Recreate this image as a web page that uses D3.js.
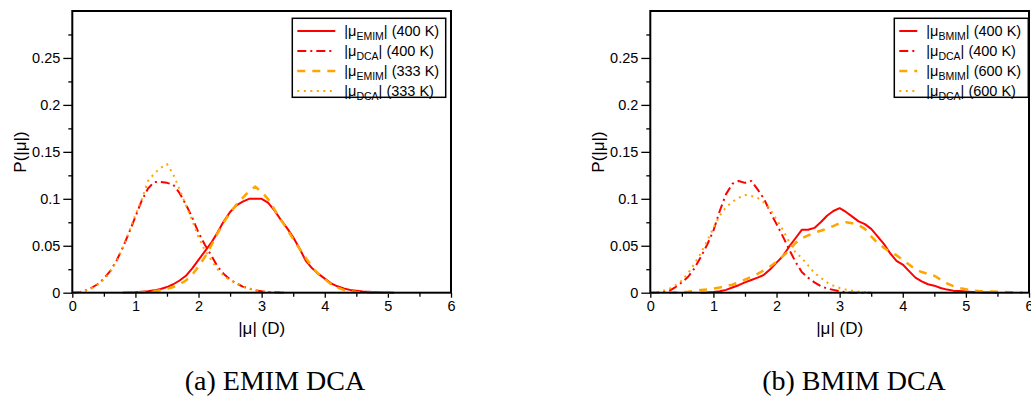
<!DOCTYPE html>
<html>
<head>
  <meta charset="utf-8">
  <script src="https://cdn.jsdelivr.net/npm/d3@7"></script>
  <style>
    body { margin: 0; background: #fff; }
    svg { display: block; }
    .tick text { font-family: "Liberation Sans", Arial, sans-serif; font-size: 14.5px; fill: #000; }
    .lab { font-family: "Liberation Sans", Arial, sans-serif; font-size: 17px; fill: #000; }
    .leg { font-family: "Liberation Sans", Arial, sans-serif; font-size: 14.5px; fill: #000; }
    .cap { font-family: "Liberation Serif", "DejaVu Serif", serif; font-size: 28px; fill: #000; }
  </style>
</head>
<body>
<script>
  "use strict";

  // axis ticks shared by both panels
  var xTicks = [0, 1, 2, 3, 4, 5, 6];
  var xMinor = [0.5, 1.5, 2.5, 3.5, 4.5, 5.5];
  var yTicks = [0, 0.05, 0.1, 0.15, 0.2, 0.25];
  var yTickLabels = ["0", "0.05", "0.1", "0.15", "0.2", "0.25"];
  var yMinor = [0.025, 0.075, 0.125, 0.175, 0.225, 0.275];

  // (a) EMIM DCA
  var aDcaX = [0,0.1,0.2,0.3,0.4,0.5,0.6,0.7,0.8,0.9,1.0,1.1,1.2,1.3,1.4,1.5,1.6,1.7,1.8,1.9,
               2.0,2.1,2.2,2.3,2.4,2.5,2.6,2.7,2.8,2.9,3.0,3.1,3.2,3.3,3.4];
  var aDca400 = [0,0.0005,0.002,0.005,0.009,0.015,0.023,0.034,0.048,0.064,
                 0.081,0.098,0.111,0.118,0.118,0.117,0.115,0.106,0.094,0.08,
                 0.064,0.051,0.04,0.028,0.02,0.014,0.01,0.0065,0.0045,0.0025,
                 0.0015,0.0008,0.0004,0.0001,0];
  var aDca333 = [0,0.0004,0.0018,0.0045,0.0085,0.014,0.022,0.033,0.048,0.065,
                 0.083,0.099,0.119,0.127,0.133,0.137,0.126,0.11,0.093,0.077,
                 0.059,0.045,0.035,0.025,0.018,0.013,0.01,0.0065,0.0045,0.003,
                 0.0018,0.001,0.0005,0.0002,0];
  var aEmimX = [0.8,0.9,1.0,1.1,1.2,1.3,1.4,1.5,1.6,1.7,1.8,1.9,2.0,2.1,2.2,2.3,2.4,2.5,2.6,2.7,
                2.8,2.9,3.0,3.1,3.2,3.3,3.4,3.5,3.6,3.7,3.8,3.9,4.0,4.1,4.2,4.3,4.4,4.5,4.6,4.7,
                4.8,4.9,5.0,5.1];
  var aEmim400 = [0,0.0002,0.0005,0.001,0.0015,0.0025,0.004,0.006,0.009,0.013,
                  0.018,0.026,0.035,0.044,0.053,0.064,0.076,0.086,0.093,0.097,
                  0.1,0.1,0.1,0.096,0.088,0.078,0.069,0.059,0.047,0.034,
                  0.026,0.02,0.015,0.01,0.0068,0.0045,0.003,0.0022,0.0014,0.001,
                  0.0006,0.0003,0.0001,0];
  var aEmim333 = [0,0,0.0002,0.0005,0.0008,0.0015,0.0025,0.004,0.006,0.009,
                  0.013,0.019,0.028,0.038,0.05,0.063,0.075,0.085,0.094,0.101,
                  0.108,0.113,0.107,0.1,0.089,0.078,0.068,0.057,0.047,0.037,
                  0.027,0.02,0.0145,0.009,0.0055,0.003,0.0015,0.0007,0.0002,0,
                  0,0,0,0];

  // (b) BMIM DCA
  var bDcaX = [0,0.1,0.2,0.3,0.4,0.5,0.6,0.7,0.8,0.9,1.0,1.1,1.2,1.3,1.4,1.5,1.6,1.7,1.8,1.9,
               2.0,2.1,2.2,2.3,2.4,2.5,2.6,2.7,2.8,2.9,3.0,3.1,3.2,3.3,3.4,3.5];
  var bDca400 = [0,0.0001,0.0005,0.002,0.006,0.011,0.017,0.026,0.038,0.051,
                 0.066,0.087,0.105,0.116,0.119,0.117,0.119,0.11,0.1,0.086,
                 0.073,0.06,0.046,0.033,0.022,0.016,0.011,0.007,0.0045,0.003,
                 0.0015,0.0005,0,0,0,0];
  var bDca600 = [0,0.0005,0.002,0.004,0.008,0.013,0.021,0.031,0.042,0.055,
                 0.069,0.082,0.091,0.097,0.101,0.104,0.103,0.101,0.096,0.089,
                 0.078,0.067,0.054,0.043,0.037,0.029,0.021,0.016,0.011,0.0075,
                 0.005,0.0033,0.002,0.001,0.0005,0];
  var bBmim400X = [0.8,0.9,1.0,1.1,1.2,1.3,1.4,1.5,1.6,1.7,1.8,1.9,2.0,2.1,2.2,2.3,2.4,2.5,2.6,2.7,
                   2.8,2.9,3.0,3.1,3.2,3.3,3.4,3.5,3.6,3.7,3.8,3.9,4.0,4.1,4.2,4.3,4.4,4.5,4.6,4.7,
                   4.8,4.9,5.0,5.1,5.2,5.3,5.4,5.5];
  var bBmim400 = [0,0.0003,0.0008,0.0015,0.003,0.0055,0.008,0.011,0.0135,0.016,
                  0.019,0.025,0.032,0.039,0.049,0.058,0.067,0.067,0.069,0.075,
                  0.082,0.087,0.09,0.086,0.081,0.076,0.073,0.068,0.06,0.052,
                  0.042,0.034,0.03,0.023,0.016,0.012,0.009,0.0075,0.005,0.0033,
                  0.0022,0.0017,0.0012,0.0008,0.0005,0.0003,0.0001,0];
  var bBmim600X = [0.3,0.4,0.5,0.6,0.7,0.8,0.9,1.0,1.1,1.2,1.3,1.4,1.5,1.6,1.7,1.8,1.9,2.0,2.1,2.2,
                   2.3,2.4,2.5,2.6,2.7,2.8,2.9,3.0,3.1,3.2,3.3,3.4,3.5,3.6,3.7,3.8,3.9,4.0,4.1,4.2,
                   4.3,4.4,4.5,4.6,4.7,4.8,4.9,5.0,5.1,5.2,5.3,5.4,5.5,5.6,5.7,5.8,5.9];
  var bBmim600 = [0,0.0002,0.0005,0.001,0.002,0.003,0.0035,0.0045,0.0055,0.007,
                  0.0085,0.011,0.014,0.017,0.02,0.024,0.028,0.033,0.039,0.045,
                  0.053,0.058,0.061,0.064,0.066,0.068,0.071,0.074,0.075,0.074,
                  0.072,0.068,0.06,0.053,0.048,0.043,0.04,0.035,0.03,0.025,
                  0.022,0.02,0.018,0.014,0.01,0.007,0.005,0.0036,0.0025,0.0018,
                  0.0015,0.0012,0.001,0.0007,0.0005,0.0003,0];

  var RED = "#ff0000", ORANGE = "#ffa500";
  var styles = {
    solid:   { color: RED,    width: 2,   dash: null },
    dashdot: { color: RED,    width: 2,   dash: "9,4,2,4" },
    dashed:  { color: ORANGE, width: 2.5, dash: "8,7" },
    dotted:  { color: ORANGE, width: 2,   dash: "2,4.5" }
  };

  var panels = [
    { left: 72.3, caption: "(a) EMIM DCA", capX: 275, legX: 292.3, legW: 153.4, sampleLen: 38,
      series: [
        { x: aEmimX, y: aEmim400, st: "solid",   sub: "EMIM", temp: "(400 K)" },
        { x: aDcaX,  y: aDca400,  st: "dashdot", sub: "DCA",  temp: "(400 K)" },
        { x: aEmimX, y: aEmim333, st: "dashed",  sub: "EMIM", temp: "(333 K)" },
        { x: aDcaX,  y: aDca333,  st: "dotted",  sub: "DCA",  temp: "(333 K)" }
      ] },
    { left: 650.3, caption: "(b) BMIM DCA", capX: 854, legX: 894.3, legW: 134, sampleLen: 18,
      series: [
        { x: bBmim400X, y: bBmim400, st: "solid",   sub: "BMIM", temp: "(400 K)" },
        { x: bDcaX,     y: bDca400,  st: "dashdot", sub: "DCA",  temp: "(400 K)" },
        { x: bBmim600X, y: bBmim600, st: "dashed",  sub: "BMIM", temp: "(600 K)" },
        { x: bDcaX,     y: bDca600,  st: "dotted",  sub: "DCA",  temp: "(600 K)" }
      ] }
  ];

  var W = 1031, H = 396;
  var plotW = 378.7, plotTop = 11, plotBottom = 292.7;

  var svg = d3.select("body").append("svg")
      .attr("width", W).attr("height", H);

  panels.forEach(function (p) {
    var x = d3.scaleLinear().domain([0, 6]).range([p.left, p.left + plotW]);
    var y = d3.scaleLinear().domain([0, 0.3]).range([plotBottom, plotTop]);
    var g = svg.append("g");

    // minor ticks
    g.append("g").attr("transform", "translate(0," + plotBottom + ")")
      .call(d3.axisBottom(x).tickValues(xMinor).tickSize(4).tickFormat(""))
      .call(function (a) { a.select(".domain").remove(); });
    g.append("g").attr("transform", "translate(" + p.left + ",0)")
      .call(d3.axisLeft(y).tickValues(yMinor).tickSize(4).tickFormat(""))
      .call(function (a) { a.select(".domain").remove(); });

    // major ticks
    g.append("g").attr("transform", "translate(0," + plotBottom + ")")
      .call(d3.axisBottom(x).tickValues(xTicks).tickSize(5).tickPadding(3).tickFormat(d3.format("d")))
      .call(function (a) { a.select(".domain").remove(); });
    g.append("g").attr("transform", "translate(" + p.left + ",0)")
      .call(d3.axisLeft(y).tickValues(yTicks).tickSize(9).tickPadding(3)
        .tickFormat(function (d, i) { return yTickLabels[i]; }))
      .call(function (a) { a.select(".domain").remove(); });
    g.selectAll(".tick line").attr("stroke", "#000").attr("stroke-width", 1.3);

    // curves
    var line = d3.line().x(function (d) { return x(d[0]); }).y(function (d) { return y(d[1]); });
    p.series.forEach(function (s) {
      var st = styles[s.st];
      g.append("path")
        .datum(d3.zip(s.x, s.y))
        .attr("d", line)
        .attr("fill", "none")
        .attr("stroke", st.color)
        .attr("stroke-width", st.width)
        .attr("stroke-dasharray", st.dash)
        .attr("stroke-linejoin", "round");
    });

    // frame
    g.append("rect")
      .attr("x", p.left).attr("y", plotTop)
      .attr("width", plotW).attr("height", plotBottom - plotTop)
      .attr("fill", "none").attr("stroke", "#000").attr("stroke-width", 2);

    // legend
    var leg = g.append("g");
    leg.append("rect")
      .attr("x", p.legX).attr("y", 18.3).attr("width", p.legW).attr("height", 79)
      .attr("fill", "#fff").attr("stroke", "#000").attr("stroke-width", 1.5);
    p.series.forEach(function (s, i) {
      var st = styles[s.st];
      var ly = 31 + i * 20;
      leg.append("line")
        .attr("x1", p.legX + 5).attr("x2", p.legX + 5 + p.sampleLen)
        .attr("y1", ly).attr("y2", ly)
        .attr("stroke", st.color).attr("stroke-width", st.width)
        .attr("stroke-dasharray", st.dash);
      var t = leg.append("text").attr("class", "leg")
        .attr("x", p.legX + p.sampleLen + 14).attr("y", ly + 5);
      t.append("tspan").text("|\u03bc");
      t.append("tspan").attr("dy", 4).style("font-size", "10.5px").text(s.sub);
      t.append("tspan").attr("dy", -4).text("| " + s.temp);
    });

    // axis labels
    g.append("text").attr("class", "lab")
      .attr("x", x(3)).attr("y", 334)
      .attr("text-anchor", "middle")
      .text("|\u03bc| (D)");
    g.append("text").attr("class", "lab")
      .attr("transform", "translate(" + (p.left - 46) + "," + 152 + ") rotate(-90)")
      .attr("text-anchor", "middle")
      .text("P(|\u03bc|)");

    // caption
    svg.append("text").attr("class", "cap")
      .attr("x", p.capX).attr("y", 390)
      .attr("text-anchor", "middle")
      .text(p.caption);
  });
</script>
</body>
</html>
